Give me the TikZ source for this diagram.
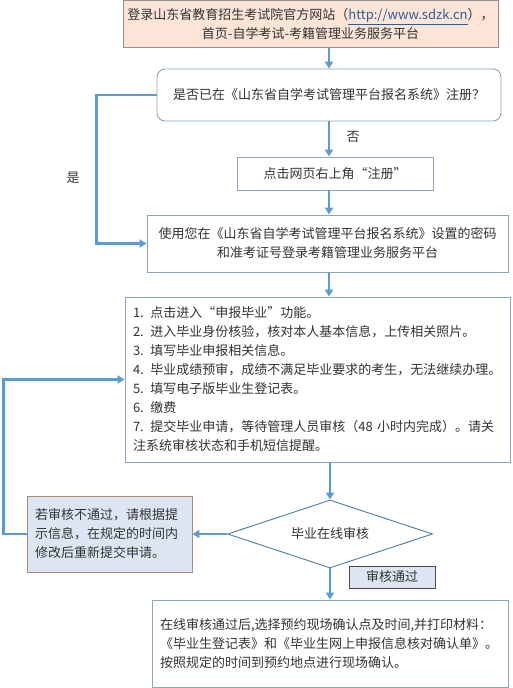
\documentclass[tikz,border=0pt]{standalone}
\usepackage{fontspec}
\newfontfamily\cjk{Noto Sans CJK SC}
\usetikzlibrary{arrows.meta,shapes.geometric}
\definecolor{flowblue}{HTML}{5B9BD5}
\definecolor{boxline}{HTML}{8DA4BC}
\definecolor{peach}{HTML}{FCE4D6}
\definecolor{paleblue}{HTML}{DCE6F2}
\definecolor{inkgray}{HTML}{333333}
\definecolor{linkblue}{HTML}{2E5C9A}
\definecolor{rustline}{HTML}{B08A72}

\begin{document}
\begin{tikzpicture}[
  x=1pt, y=-1pt,
  every node/.style={font=\cjk\fontsize{13}{19}\selectfont, text=inkgray},
  box/.style={draw=boxline, line width=0.9pt, fill=white, align=center, inner sep=0pt},
  textbox/.style={box, align=left, inner xsep=8pt},
  arrow/.style={-{Triangle[length=7pt, width=8pt]}, flowblue, line width=2.3pt}
]
\useasboundingbox (0,0) rectangle (512,688);
% top to bottom
\node[box, fill=peach, draw=gray!85, minimum width=375pt, minimum height=47pt] (portal) at (310.5,24)
  {登录山东省教育招生考试院官方网站（\textcolor{linkblue}{\underline{http://www.sdzk.cn}}），\\首页-自学考试-考籍管理业务服务平台};
\node[box, rounded corners=8pt, minimum width=344pt, minimum height=52pt] (check) at (329,95)
  {是否已在《山东省自学考试管理平台报名系统》注册？};
\node (no) at (353,137) {否};
\node[box, minimum width=196pt, minimum height=33pt] (reg) at (335,173.5) {点击网页右上角“注册”};
\node[box, minimum width=361pt, minimum height=57pt] (signin) at (327.5,243.5)
  {使用您在《山东省自学考试管理平台报名系统》设置的密码\\和准考证号登录考籍管理业务服务平台};
\node (yes) at (73,178) {是};
\node[textbox, text width=369pt, minimum height=165pt] (list) at (317.5,379.5)
  {1. 点击进入“申报毕业”功能。\\
   2. 进入毕业身份核验，核对本人基本信息，上传相关照片。\\
   3. 填写毕业申报相关信息。\\
   4. 毕业成绩预审，成绩不满足毕业要求的考生，无法继续办理。\\
   5. 填写电子版毕业生登记表。\\
   6. 缴费\\
   7. 提交毕业申请，等待管理人员审核（48 小时内完成）。请关\\
   注系统审核状态和手机短信提醒。};
\node[draw=flowblue!80!black, line width=0.9pt, fill=white, diamond, aspect=3, inner sep=0pt,
  minimum width=205pt, minimum height=68pt] (audit) at (330,534) {毕业在线审核};
\node[textbox, fill=paleblue, draw=rustline, text width=149pt, minimum height=76pt] (retry) at (109.5,534)
  {若审核不通过，请根据提\\示信息，在规定的时间内\\修改后重新提交申请。};
\node[box, fill=paleblue, draw=gray!60!black, minimum width=86pt, minimum height=22pt] (pass) at (392,577) {审核通过};
\node[textbox, text width=340pt, minimum height=87pt] (final) at (330,643.5)
  {在线审核通过后,选择预约现场确认点及时间,并打印材料：\\
   《毕业生登记表》和《毕业生网上申报信息核对确认单》。\\
   按照规定的时间到预约地点进行现场确认。};

\draw[arrow] (portal.south -| check.north) -- (check.north);
\draw[arrow] (check.south) -- (check.south |- reg.north);
\draw[arrow] (reg.south -| check.south) -- (signin.north -| check.south);
\draw[arrow] (check.west) -- ++(-60,0) |- (signin.west);
\draw[arrow] (signin.south -| check.south) -- (list.north -| check.south);
\draw[arrow] (list.south -| audit.north) -- (audit.north);
\draw[arrow] (audit.west) -- (retry.east);
\draw[arrow] (retry.west) -- ++(-23,0) |- (list.west);
\draw[arrow] (audit.south) -- (final.north -| audit.south);
\end{tikzpicture}
\end{document}
